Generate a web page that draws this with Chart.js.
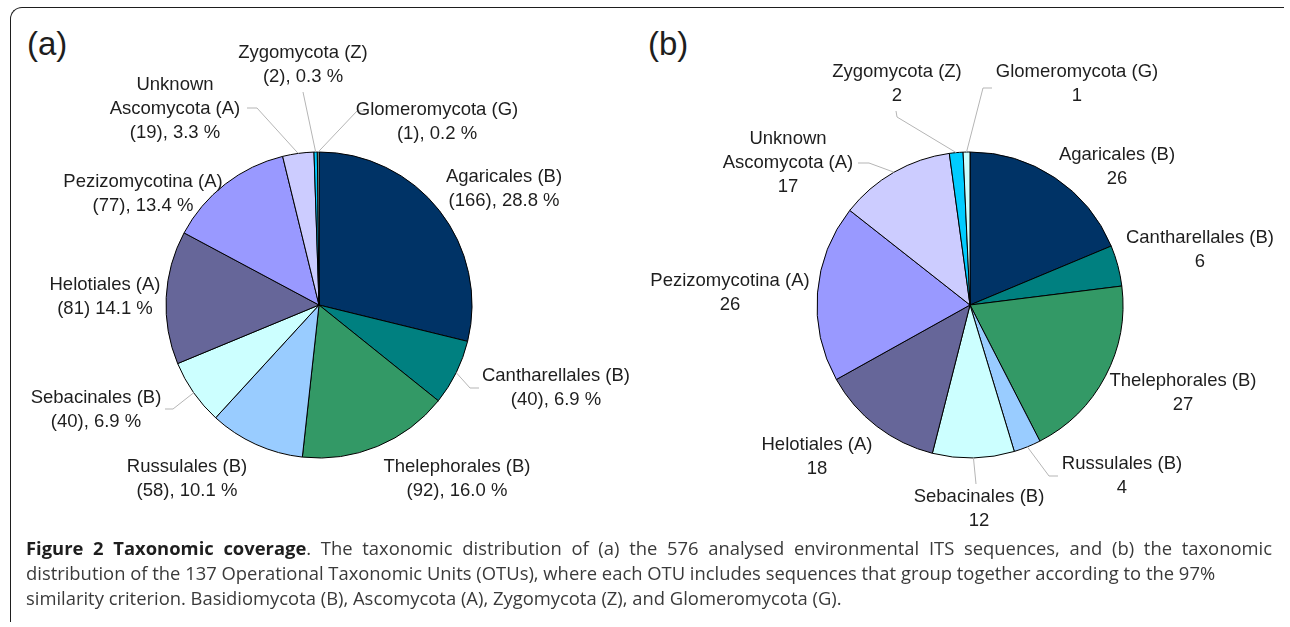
<!DOCTYPE html>
<html>
<head>
<meta charset="utf-8">
<script src="https://cdn.jsdelivr.net/npm/chart.js@4.4.0/dist/chart.umd.min.js"></script>
<style>
  html, body { margin: 0; padding: 0; background: #fff; }
  body { width: 1290px; height: 627px; position: relative; overflow: hidden; font-family: "Liberation Sans", Arial, sans-serif; }
  #frame { position: absolute; left: 10px; top: 7px; width: 1273px; height: 614px;
           border-top: 1.5px solid #1e1e1e; border-left: 1.5px solid #1e1e1e; border-top-left-radius: 12px; }
  canvas { position: absolute; left: 0; top: 0; }
  .tag { position: absolute; font-size: 33px; line-height: 33px; color: #1e1e1e; }
  #caption { position: absolute; left: 26px; top: 535px; width: 1246px; font-family: "Open Sans", sans-serif;
             font-size: 18.4px; line-height: 25px; color: #3a3a3a; white-space: nowrap; }
  #caption .l1 { text-align: justify; text-align-last: justify; }
  #caption b { color: #1e1e1e; }
</style>
</head>
<body>
<div id="frame"></div>
<div class="tag" style="left:27px;top:27px">(a)</div>
<div class="tag" style="left:648px;top:27px">(b)</div>
<canvas id="chartA" width="1290" height="545"></canvas>
<canvas id="chartB" width="1290" height="545"></canvas>
<div id="caption">
  <div class="l1"><b>Figure 2 Taxonomic coverage</b>. The taxonomic distribution of (a) the 576 analysed environmental ITS sequences, and (b) the taxonomic</div>
  <div>distribution of the 137 Operational Taxonomic Units (OTUs), where each OTU includes sequences that group together according to the 97%</div>
  <div>similarity criterion. Basidiomycota (B), Ascomycota (A), Zygomycota (Z), and Glomeromycota (G).</div>
</div>
<script>
// slices clockwise from 12 o'clock
const categories = ['Agaricales (B)', 'Cantharellales (B)', 'Thelephorales (B)', 'Russulales (B)', 'Sebacinales (B)',
  'Helotiales (A)', 'Pezizomycotina (A)', 'Unknown\nAscomycota (A)', 'Zygomycota (Z)', 'Glomeromycota (G)'];
const sequenceCounts = [166, 40, 92, 58, 40, 81, 77, 19, 2, 1];
const sequencePercents = ['28.8', '6.9', '16.0', '10.1', '6.9', '14.1', '13.4', '3.3', '0.3', '0.2'];
const otuCounts = [26, 6, 27, 4, 12, 18, 26, 17, 2, 1];
const sliceColors = ['#003366', '#008080', '#339966', '#99ccff', '#ccffff', '#666699', '#9999ff', '#ccccff', '#00ccff', '#ccffff'];

// label placement (first line centre) and leader line start points
const labelPosA = [[504, 177], [556, 376], [457, 467], [187, 467], [96, 398], [105, 285], [143, 182], [175, 85], [303, 53], [437, 110]];
const leadersA = [
  { i: 1, pts: [[479, 388], [470, 388]] },
  { i: 4, pts: [[165, 409], [173, 409]] },
  { i: 7, pts: [[247, 108], [257, 108]] },
  { i: 8, pts: [[303, 92]] },
  { i: 9, pts: [[365, 111], [357, 111]] }
];
const labelPosB = [[1117, 155], [1200, 238], [1183, 381], [1122, 464], [979, 497], [817, 445], [730, 281], [788, 139], [897, 72], [1077, 72]];
const leadersB = [
  { i: 3, pts: [[1058, 476], [1049, 476]] },
  { i: 4, pts: [[976, 484]] },
  { i: 7, pts: [[858, 163], [869, 163]] },
  { i: 8, pts: [[896, 111], [897, 117]] },
  { i: 9, pts: [[992, 88], [983, 88]] }
];

const textsA = categories.map((c, i) => {
  const v = i === 5 ? `(${sequenceCounts[i]}) ${sequencePercents[i]} %` : `(${sequenceCounts[i]}), ${sequencePercents[i]} %`;
  return c.split('\n').concat(v);
});
const textsB = categories.map((c, i) => c.split('\n').concat(String(otuCounts[i])));

const pieLabels = {
  id: 'pieLabels',
  afterDatasetsDraw(chart, args, opts) {
    const ctx = chart.ctx;
    const arcs = chart.getDatasetMeta(0).data;
    ctx.save();
    ctx.strokeStyle = '#b5b5b5';
    ctx.lineWidth = 1;
    opts.leaders.forEach(ld => {
      const arc = arcs[ld.i];
      const mid = (arc.startAngle + arc.endAngle) / 2;
      const ex = arc.x + Math.cos(mid) * arc.outerRadius;
      const ey = arc.y + Math.sin(mid) * arc.outerRadius;
      ctx.beginPath();
      ctx.moveTo(ld.pts[0][0], ld.pts[0][1]);
      ld.pts.slice(1).forEach(p => ctx.lineTo(p[0], p[1]));
      ctx.lineTo(ex, ey);
      ctx.stroke();
    });
    ctx.fillStyle = '#1e1e1e';
    ctx.font = '18.5px "Liberation Sans", Arial, sans-serif';
    ctx.textAlign = 'center';
    ctx.textBaseline = 'middle';
    opts.texts.forEach((lines, i) => {
      const [x, y] = opts.pos[i];
      lines.forEach((s, k) => ctx.fillText(s, x, y + k * 24));
    });
    ctx.restore();
  }
};

function makePie(id, values, padding, texts, pos, leaders) {
  return new Chart(document.getElementById(id), {
    type: 'pie',
    data: {
      labels: categories,
      datasets: [{
        data: values,
        backgroundColor: sliceColors,
        borderColor: '#000',
        borderWidth: 1,
        radius: 153
      }]
    },
    options: {
      responsive: false,
      animation: false,
      layout: { padding: padding },
      plugins: {
        legend: { display: false },
        tooltip: { enabled: false },
        pieLabels: { texts: texts, pos: pos, leaders: leaders }
      }
    },
    plugins: [pieLabels]
  });
}

makePie('chartA', sequenceCounts, { left: 0, right: 652, top: 100, bottom: 35 }, textsA, labelPosA, leadersA);
makePie('chartB', otuCounts, { left: 650, right: 0, top: 100, bottom: 35 }, textsB, labelPosB, leadersB);
</script>
</body>
</html>
